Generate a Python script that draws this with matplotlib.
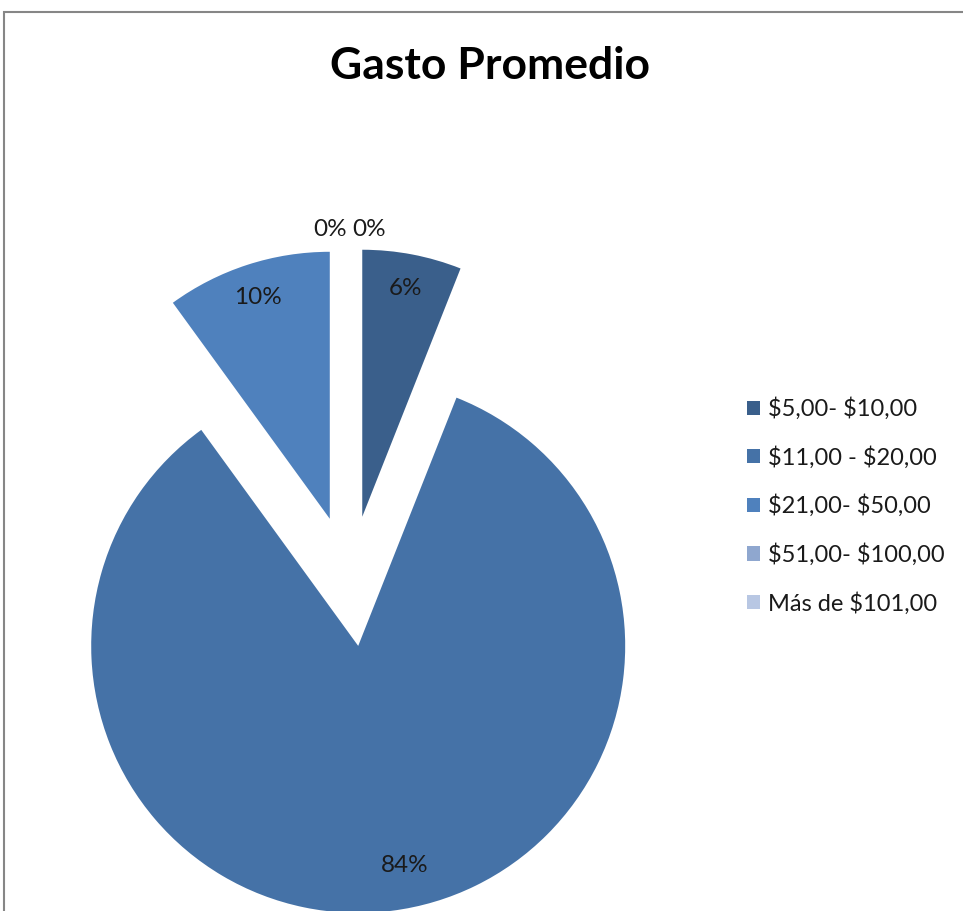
import matplotlib.pyplot as plt
from matplotlib.patches import Rectangle

plt.rcParams['font.family'] = ['Lato', 'DejaVu Sans']
plt.rcParams['text.parse_math'] = False

# average spend per visit, share of respondents
categorias = ['$5,00- $10,00', '$11,00 - $20,00', '$21,00- $50,00',
              '$51,00- $100,00', 'Más de $101,00']
porcentajes = [6, 84, 10, 0, 0]
colores = ['#3A5F8B', '#4572A7', '#4F81BD', '#8FA7CF', '#B8C7E3']

W, H = 963, 911
fig = plt.figure(figsize=(W / 100, H / 100), dpi=100)
ax = fig.add_axes([0, 0, 1, 1])

# pie laid out in pixel units (explode is an absolute offset here)
cx, cy, r = 350, H - 581, 267
wedges, _, pct = ax.pie(porcentajes, colors=colores, startangle=90, counterclock=False,
                        explode=[0.245 * r] * 5, radius=r, center=(cx, cy), frame=True,
                        autopct='%1.0f%%', pctdistance=0.87,
                        textprops={'fontsize': 17.5, 'color': '#1a1a1a'})
for w in wedges:
    w.set_linewidth(0)

# tweak label spots the way the spreadsheet placed them
pct[1].set_position((405, H - 866))
pct[3].set_position((330, H - 229))
pct[4].set_position((369, H - 229))

ax.set_xlim(0, W)
ax.set_ylim(0, H)
ax.set_aspect('equal')
ax.axis('off')

fig.text(490 / W, 1 - 66 / H, 'Gasto Promedio', ha='center', va='center',
         fontsize=32, fontweight='bold')

leg = ax.legend(wedges, categorias, loc='center left',
                bbox_to_anchor=(735 / W, 1 - 506 / H), frameon=False,
                fontsize=17, handlelength=0.55, handleheight=0.55,
                handletextpad=0.35, labelspacing=1.1, borderpad=0)
for t in leg.get_texts():
    t.set_color('#1a1a1a')

# chart area border
fig.patches.append(Rectangle((4 / W, -0.1), 1.1, 1 - 12 / H + 0.1, transform=fig.transFigure,
                             fill=False, edgecolor='#868686', linewidth=1.5))

fig.savefig('out.png', dpi=100)
